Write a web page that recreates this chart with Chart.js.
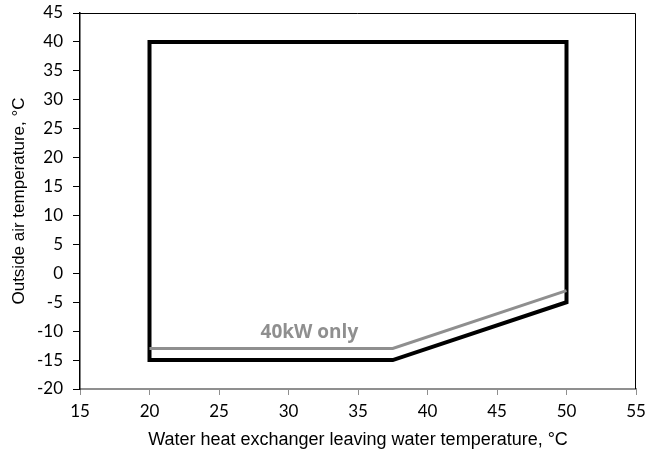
<!DOCTYPE html>
<html>
<head>
<meta charset="utf-8">
<script src="https://cdn.jsdelivr.net/npm/chart.js@4/dist/chart.umd.min.js"></script>
<style>
  html, body { margin: 0; padding: 0; background: #fff; }
  #wrap { width: 656px; height: 455px; position: relative; }
</style>
</head>
<body>
<div id="wrap"><canvas id="envelope"></canvas></div>
<script>
// operating envelope (water leaving temp, outside air temp)
const envX = [20, 50, 50, 37.5, 20, 20];
const envY = [40, 40, -5, -15, -15, 40];
// 40kW only lower limit
const kwX = [20, 37.5, 50];
const kwY = [-13, -13, -3];
const kwLabel = '40kW only';
const kwLabelAt = [31.5, -10.3];

const xTicks = [15, 20, 25, 30, 35, 40, 45, 50, 55];
const yTicks = [-20, -15, -10, -5, 0, 5, 10, 15, 20, 25, 30, 35, 40, 45];

const tickFont = { family: 'Lato, "Open Sans", sans-serif', size: 17 };

const frame = {
  id: 'frame',
  afterDatasetsDraw(chart) {
    const ctx = chart.ctx, a = chart.chartArea;
    ctx.save();
    ctx.strokeStyle = '#000';
    ctx.lineWidth = 1;
    ctx.beginPath();
    ctx.moveTo(a.left, a.top + 0.5);
    ctx.lineTo(a.right - 0.5, a.top + 0.5);
    ctx.lineTo(a.right - 0.5, a.bottom);
    ctx.stroke();
    // label for the grey line
    ctx.fillStyle = '#8f8f8f';
    ctx.font = 'bold 19px "Open Sans", Lato, sans-serif';
    ctx.textAlign = 'center';
    ctx.textBaseline = 'middle';
    ctx.fillText(kwLabel, chart.scales.x.getPixelForValue(kwLabelAt[0]), chart.scales.y.getPixelForValue(kwLabelAt[1]));
    ctx.restore();
  }
};

new Chart(document.getElementById('envelope'), {
  type: 'scatter',
  data: {
    datasets: [
      {
        data: kwX.map((x, i) => ({ x: x, y: kwY[i] })),
        showLine: true,
        borderColor: '#8f8f8f',
        borderWidth: 3,
        pointRadius: 0,
        fill: false,
        borderJoinStyle: 'miter'
      },
      {
        data: envX.map((x, i) => ({ x: x, y: envY[i] })),
        showLine: true,
        borderColor: '#000',
        borderWidth: 4,
        pointRadius: 0,
        fill: false,
        borderJoinStyle: 'miter',
        borderCapStyle: 'square'
      }
    ]
  },
  options: {
    responsive: true,
    maintainAspectRatio: false,
    animation: false,
    layout: { padding: { top: 13, right: 20, left: 0, bottom: 0 } },
    plugins: { legend: { display: false }, tooltip: { enabled: false } },
    scales: {
      x: {
        type: 'linear',
        min: 15, max: 55,
        afterBuildTicks: s => { s.ticks = xTicks.map(v => ({ value: v })); },
        afterFit: s => { s.height = 66; s.paddingLeft = 0; s.paddingRight = 0; },
        ticks: { color: '#000', font: tickFont, padding: 6 },
        grid: { display: true, drawOnChartArea: false, tickLength: 6, color: '#8f8f8f' },
        border: { display: true, color: '#8f8f8f', width: 2 },
        title: { display: true, text: 'Water heat exchanger leaving water temperature, °C', color: '#000', font: { family: '"Liberation Sans", Arial, sans-serif', size: 18 }, padding: { top: 0, bottom: 4 } }
      },
      y: {
        type: 'linear',
        min: -20, max: 45,
        afterBuildTicks: s => { s.ticks = yTicks.map(v => ({ value: v })); },
        afterFit: s => { s.width = 80; s.paddingTop = 0; s.paddingBottom = 0; },
        ticks: { color: '#000', font: tickFont, padding: 10 },
        grid: { display: true, drawOnChartArea: false, tickLength: 7, color: '#000' },
        border: { display: true, color: '#000', width: 1.5 },
        title: { display: true, text: 'Outside air temperature, °C', color: '#000', font: { family: '"Liberation Sans", Arial, sans-serif', size: 17 }, padding: { top: 9, bottom: 0 } }
      }
    }
  },
  plugins: [frame]
});
</script>
</body>
</html>
